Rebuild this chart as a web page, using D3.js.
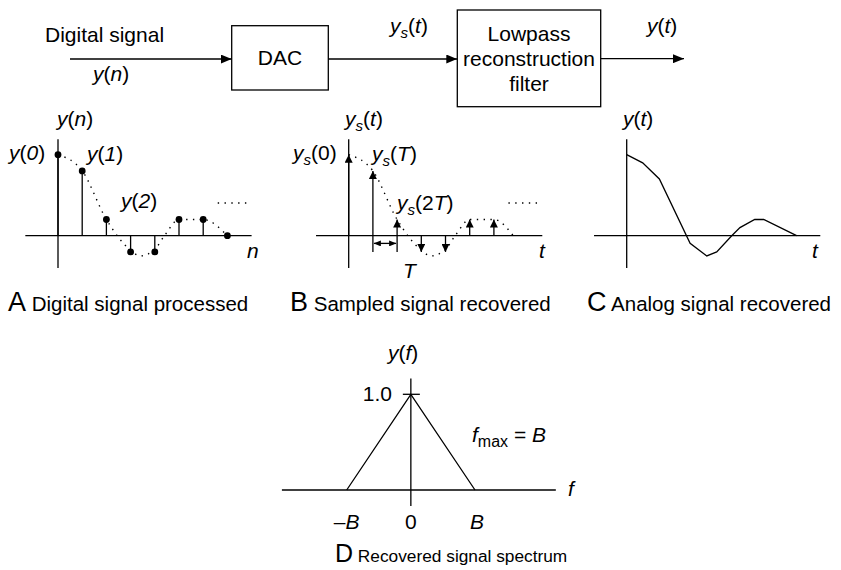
<!DOCTYPE html>
<html><head><meta charset="utf-8">
<script src="https://cdn.jsdelivr.net/npm/d3@7"></script>
<style>
body{margin:0;background:#fff}
svg{display:block}
text{font-family:"Liberation Sans",Arial,Helvetica,sans-serif;fill:#000}
</style>
</head><body><div id="chart"></div>
<script>
// ---------------- data ----------------
const sampleIndex = [0, 1, 2, 3, 4, 5, 6, 7];
const sampleValues = [1.0, 0.8, 0.2, -0.2, -0.2, 0.2, 0.2, 0];
const envelopeN = [0, 1, 2, 3, 3.4, 4, 4.4, 5, 6, 7];
const envelopeY = [1.0, 0.8, 0.2, -0.18, -0.25, -0.17, 0, 0.2, 0.2, 0];
const sampledEnvelopeN = [0, 1, 2, 3, 3.4, 4, 4.4, 5, 6, 6.8];
const sampledEnvelopeY = [1.0, 0.8, 0.2, -0.18, -0.25, -0.17, 0, 0.2, 0.2, 0];
const analogT = [0, 0.66, 1.35, 2.62, 3.31, 3.72, 4.34, 4.68, 5.29, 5.66, 7.02];
const analogY = [1.0, 0.9, 0.7, -0.094, -0.25, -0.2, 0, 0.1, 0.2, 0.2, 0];
const spectrumF = [-1, 0, 1];
const spectrumY = [0, 1, 0];
const spectrumTickValues = [-1, 0, 1];
const spectrumTickLabels = ["\u2013B", "0", "B"];
const spectrumPeakLabel = "1.0";
const captionLetters = ["A", "B", "C", "D"];
const captionTexts = ["Digital signal processed", "Sampled signal recovered", "Analog signal recovered", "Recovered signal spectrum"];
const blockNames = ["DAC", "Lowpass reconstruction filter"];

// ---------------- setup ----------------
const W = 841, H = 570;
const svg = d3.select("#chart").append("svg").attr("width", W).attr("height", H);
const defs = svg.append("defs");
function marker(id, w, h) {
  defs.append("marker").attr("id", id).attr("markerUnits", "userSpaceOnUse")
    .attr("markerWidth", w).attr("markerHeight", h).attr("refX", w).attr("refY", h / 2)
    .attr("orient", "auto-start-reverse")
    .append("path").attr("d", `M0,0L${w},${h / 2}L0,${h}Z`).attr("fill", "#000");
}
marker("bigArrow", 11, 9);
marker("stemArrow", 8, 8);
marker("dimArrow", 7, 6);

const SW = 1.3;
function line(g, x1, y1, x2, y2, sw) {
  return g.append("line").attr("x1", x1).attr("y1", y1).attr("x2", x2).attr("y2", y2)
    .attr("stroke", "#000").attr("stroke-width", sw || SW);
}
// rich text: parts = [{t, i (italic), sub}]
function rich(x, y, parts, anchor, size) {
  size = size || 21;
  const t = svg.append("text").attr("x", x).attr("y", y).attr("text-anchor", anchor || "start")
    .style("font-size", size + "px");
  let shift = 0;
  parts.forEach(p => {
    const ts = t.append("tspan").text(p.t);
    if (p.i) ts.style("font-style", "italic");
    const target = p.sub ? 5 : 0;
    if (target !== shift) { ts.attr("dy", target - shift); shift = target; }
    if (p.sub) ts.style("font-size", (p.size || size * 0.72) + "px");
    if (p.size && !p.sub) ts.style("font-size", p.size + "px");
  });
  return t;
}
const I = s => ({t: s, i: 1});
const N = s => ({t: s});
const S = s => ({t: s, i: 1, sub: 1});
const yOf = v => [I("y"), N("("), I(v), N(")")];
const ysOf = v => [I("y"), S("s"), N("(")].concat(v.map(c => /\d/.test(c) ? N(c) : I(c))).concat([N(")")]);

// ---------------- block diagram ----------------
rich(45, 42, [N("Digital signal")]);
line(svg, 70, 59, 231.7, 59).attr("marker-end", "url(#bigArrow)");
rich(93, 81, yOf("n"));
svg.append("rect").attr("x", 231.7).attr("y", 25.7).attr("width", 96.6).attr("height", 64.3)
  .attr("fill", "none").attr("stroke", "#000").attr("stroke-width", SW);
rich(280, 65, [N(blockNames[0])], "middle");
line(svg, 328.3, 59, 457.3, 59).attr("marker-end", "url(#bigArrow)");
rich(390, 33, ysOf(["t"]));
svg.append("rect").attr("x", 457.3).attr("y", 10).attr("width", 143.4).attr("height", 96.7)
  .attr("fill", "none").attr("stroke", "#000").attr("stroke-width", SW);
["Lowpass", "reconstruction", "filter"].forEach((w, k) => rich(529, 40.7 + k * 25, [N(w)], "middle"));
line(svg, 600.7, 58.7, 684, 58.7).attr("marker-end", "url(#bigArrow)");
rich(647, 33, yOf("t"));

// ---------------- time panels ----------------
const UX = 24.2, UY = 81, AXIS_Y = 235.7;
function panel(ox) {
  const x = d3.scaleLinear().domain([0, 1]).range([ox, ox + UX]);
  const y = d3.scaleLinear().domain([0, 1]).range([AXIS_Y, AXIS_Y - UY]);
  const g = svg.append("g");
  line(g, x(-1.35), y(0), x(8), y(0));
  line(g, x(0), y(1.19), x(0), y(-0.4));
  return {x, y, g};
}
const dotted = (g, pts, x, y) => g.append("path")
  .attr("d", d3.line().x(d => x(d[0])).y(d => y(d[1])).curve(d3.curveMonotoneX)(pts))
  .attr("fill", "none").attr("stroke", "#000").attr("stroke-width", 1.4)
  .attr("stroke-dasharray", "1.4,5.4");

// Panel A
const A = panel(58);
dotted(A.g, envelopeN.map((n, k) => [n, envelopeY[k]]), A.x, A.y);
A.g.selectAll(".stem").data(sampleIndex).join("line")
  .attr("x1", d => A.x(d)).attr("x2", d => A.x(d)).attr("y1", A.y(0)).attr("y2", (d, k) => A.y(sampleValues[k]))
  .attr("stroke", "#000").attr("stroke-width", SW);
A.g.selectAll(".dot").data(sampleIndex).join("circle")
  .attr("cx", d => A.x(d)).attr("cy", (d, k) => A.y(sampleValues[k])).attr("r", 3.4).attr("fill", "#000");
dotted(A.g, [[6.6, 0.404], [8.0, 0.404]], A.x, A.y);
rich(57, 126, yOf("n"));
rich(9, 160, yOf("0"));
rich(87, 161, yOf("1"));
rich(121, 208, yOf("2"));
rich(247, 258, [I("n")]);

// Panel B
const B = panel(348.7);
dotted(B.g, sampledEnvelopeN.map((n, k) => [n, sampledEnvelopeY[k]]), B.x, B.y);
B.g.selectAll(".arr").data(sampleIndex.filter((d, k) => sampleValues[k] !== 0)).join("line")
  .attr("x1", d => B.x(d)).attr("x2", d => B.x(d)).attr("y1", B.y(0)).attr("y2", d => B.y(sampleValues[d]))
  .attr("stroke", "#000").attr("stroke-width", SW).attr("marker-end", "url(#stemArrow)");
// sampling interval T
line(B.g, B.x(1), B.y(0), B.x(1), B.y(-0.2));
line(B.g, B.x(2), B.y(0), B.x(2), B.y(-0.2));
line(B.g, B.x(1) + 1, B.y(-0.095), B.x(2) - 1, B.y(-0.095))
  .attr("marker-start", "url(#dimArrow)").attr("marker-end", "url(#dimArrow)");
dotted(B.g, [[6.6, 0.404], [7.96, 0.404]], B.x, B.y);
rich(345, 126, ysOf(["t"]));
rich(293, 160, ysOf(["0"]));
rich(372, 161, ysOf(["T"]));
rich(397, 209.5, ysOf(["2", "T"]));
rich(539, 258, [I("t")]);
rich(403, 278, [I("T")]);

// Panel C
const C = panel(626.7);
C.g.append("path")
  .attr("d", d3.line().x(d => C.x(d[0])).y(d => C.y(d[1]))(analogT.map((t, k) => [t, analogY[k]])))
  .attr("fill", "none").attr("stroke", "#000").attr("stroke-width", SW);
rich(623, 126, yOf("t"));
rich(812, 258, [I("t")]);

// captions
const capX = [8, 290, 587];
captionLetters.slice(0, 3).forEach((L, k) => {
  rich(capX[k], 311, [{t: L, size: 27}, {t: (k === 1 ? "  " : " ") + captionTexts[k], size: 20.5}]);
});

// ---------------- spectrum panel ----------------
const fx = d3.scaleLinear().domain([-1, 1]).range([346.7, 475]);
const fy = d3.scaleLinear().domain([0, 1]).range([490, 394.3]);
const D = svg.append("g");
line(D, fx(-2.01), fy(0), fx(2.26), fy(0));
line(D, fx(0), fy(1.165), fx(0), fy(-0.167));
line(D, fx(0) - 8, fy(1), fx(0) + 9, fy(1));
D.append("path").attr("d", d3.line().x(d => fx(d[0])).y(d => fy(d[1]))(spectrumF.map((f, k) => [f, spectrumY[k]])))
  .attr("fill", "none").attr("stroke", "#000").attr("stroke-width", SW);
rich(388, 360, yOf("f"));
rich(392, 401, [N(spectrumPeakLabel)], "end");
rich(472, 442, [I("f"), {t: "max", sub: 1, size: 16}, {t: " = "}, I("B")]);
rich(568, 496, [I("f")]);
spectrumTickValues.forEach((v, k) => {
  const lab = spectrumTickLabels[k];
  const parts = lab === "0" ? [N("0")] : (lab[0] === "\u2013" ? [N("\u2013"), I("B")] : [I("B")]);
  rich(fx(v) + (v === 1 ? 2 : 0), 529, parts, "middle");
});
rich(335, 562, [{t: captionLetters[3], size: 25}, {t: " " + captionTexts[3], size: 17.3}]);
</script>
</body></html>
